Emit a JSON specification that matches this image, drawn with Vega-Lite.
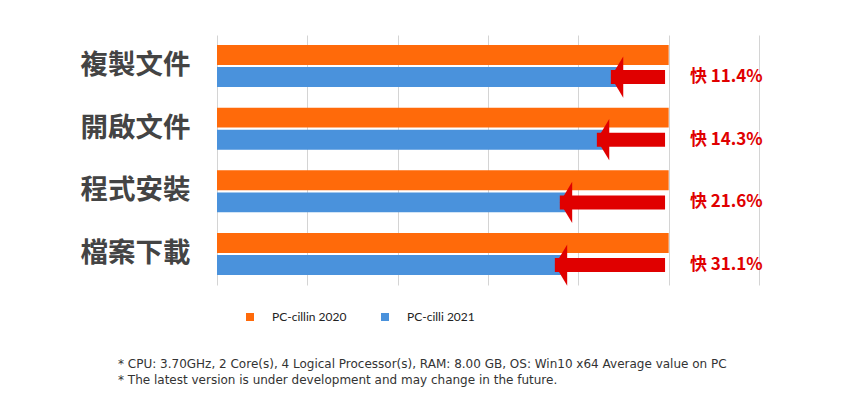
{
  "$schema": "https://vega.github.io/schema/vega-lite/v6.json",
  "width": 542,
  "height": 250,
  "autosize": {"type": "none"},
  "padding": {"left": 217, "top": 35, "right": 105, "bottom": 112},
  "background": "white",
  "config": {"view": {"stroke": null}},
  "title": {
    "text": ["* CPU: 3.70GHz,  2 Core(s), 4 Logical Processor(s), RAM: 8.00 GB, OS: Win10 x64 Average value on PC", "* The latest version is under development and may change in the future."],
    "orient": "bottom",
    "anchor": "start",
    "frame": "group",
    "dx": -99,
    "offset": 36,
    "font": "DejaVu Sans",
    "fontSize": 12,
    "fontWeight": "normal",
    "color": "#333333",
    "lineHeight": 16
  },
  "datasets": {
    "bars": [
      {"category": "複製文件", "series": "PC-cillin 2020", "value": 100},
      {"category": "複製文件", "series": "PC-cilli 2021", "value": 88.6},
      {"category": "開啟文件", "series": "PC-cillin 2020", "value": 100},
      {"category": "開啟文件", "series": "PC-cilli 2021", "value": 85.9},
      {"category": "程式安裝", "series": "PC-cillin 2020", "value": 100},
      {"category": "程式安裝", "series": "PC-cilli 2021", "value": 77.7},
      {"category": "檔案下載", "series": "PC-cillin 2020", "value": 100},
      {"category": "檔案下載", "series": "PC-cilli 2021", "value": 76.8}
    ],
    "arrows": [
      {"category": "複製文件", "series": "PC-cilli 2021", "tip": 87.2, "end": 99.2, "label": "快 11.4%"},
      {"category": "開啟文件", "series": "PC-cilli 2021", "tip": 84.1, "end": 99.2, "label": "快 14.3%"},
      {"category": "程式安裝", "series": "PC-cilli 2021", "tip": 75.9, "end": 99.2, "label": "快 21.6%"},
      {"category": "檔案下載", "series": "PC-cilli 2021", "tip": 74.8, "end": 99.2, "label": "快 31.1%"}
    ]
  },
  "encoding": {
    "y": {
      "field": "category",
      "type": "nominal",
      "sort": null,
      "scale": {"paddingInner": 0.33, "paddingOuter": 0.16},
      "axis": {
        "title": null,
        "domain": false,
        "ticks": false,
        "labelPadding": 27,
        "labelFont": "Noto Sans CJK TC",
        "labelFontSize": 27.5,
        "labelFontWeight": "bold",
        "labelColor": "#444444"
      }
    },
    "yOffset": {
      "field": "series",
      "type": "nominal",
      "sort": ["PC-cillin 2020", "PC-cilli 2021"],
      "scale": {"paddingInner": 0.1}
    }
  },
  "layer": [
    {
      "data": {"name": "bars"},
      "mark": {"type": "bar"},
      "encoding": {
        "x": {
          "field": "value",
          "type": "quantitative",
          "scale": {"domain": [0, 120], "nice": false},
          "axis": {
            "title": null,
            "labels": false,
            "ticks": false,
            "domain": false,
            "values": [0, 20, 40, 60, 80, 100, 120],
            "grid": true,
            "gridColor": "#d4d4d4",
            "gridWidth": 1
          }
        },
        "color": {
          "field": "series",
          "type": "nominal",
          "sort": ["PC-cillin 2020", "PC-cilli 2021"],
          "scale": {"range": ["#FF6A0A", "#4A92DC"]},
          "legend": {
            "title": null,
            "orient": "none",
            "legendX": 27,
            "legendY": 276,
            "direction": "horizontal",
            "symbolType": "square",
            "symbolSize": 64,
            "symbolStrokeWidth": 0,
            "labelFont": "Lato",
            "labelFontSize": 12,
            "labelColor": "#222222",
            "labelOffset": 16,
            "columnPadding": 32
          }
        }
      }
    },
    {
      "data": {"name": "arrows"},
      "mark": {"type": "rule", "color": "#E00000", "strokeWidth": 14, "strokeCap": "butt"},
      "encoding": {
        "x": {"field": "tip", "type": "quantitative"},
        "x2": {"field": "end"}
      }
    },
    {
      "data": {"name": "arrows"},
      "mark": {"type": "point", "shape": "M0,0L0.6,-1L0.6,1Z", "size": 1700, "filled": true, "color": "#E00000", "opacity": 1, "strokeWidth": 0},
      "encoding": {
        "x": {"field": "tip", "type": "quantitative"}
      }
    },
    {
      "data": {"name": "arrows"},
      "mark": {"type": "text", "align": "left", "baseline": "middle", "font": "Noto Sans CJK TC", "fontSize": 17, "fontWeight": "bold", "color": "#E00000"},
      "encoding": {
        "x": {"datum": 104.7},
        "text": {"field": "label"}
      }
    }
  ]
}
